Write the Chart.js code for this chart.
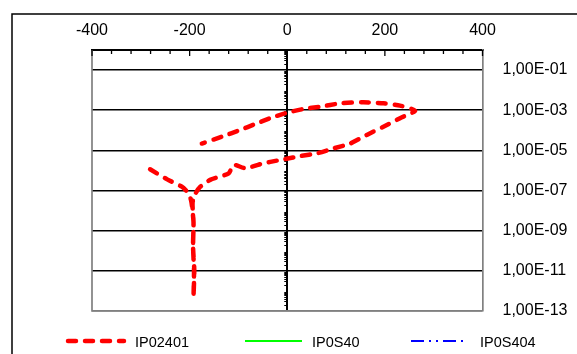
<!DOCTYPE html>
<html>
<head>
<meta charset="utf-8">
<script src="https://cdn.jsdelivr.net/npm/chart.js@4/dist/chart.umd.min.js"></script>
<style>
  html, body { margin: 0; padding: 0; background: #fff; }
  #wrap { width: 577px; height: 354px; position: relative; }
</style>
</head>
<body>
<div id="wrap"><canvas id="polChart"></canvas></div>
<script>
/* ---------- Data ---------- */
// potential (mV) and current, in scan order
const POTENTIAL = [-281, -246, -216, -202, -197, -195, -192, -193, -190.5, -192,
                   -191, -193, -192, -194, -188, -178, -158, -120, -110, -86,
                   -48, -21, -4, 27, 61, 95, 129, 163, 197, 231,
                   262, 231, 197, 156, 108, 68, 33, -4, -35, -69,
                   -96, -134, -175];
const CURRENT = [1.15e-6, 3.6e-7, 1.55e-7, 7.2e-8, 3.2e-8, 1.6e-8, 2.5e-9, 1.6e-10, 1.1e-11, 5.1e-13,
                 1.0e-11, 1.6e-10, 2.5e-9, 2.5e-8, 7.2e-8, 1.55e-7, 3.4e-7, 7.2e-7, 1.9e-6, 1.3e-6,
                 2.3e-6, 3.1e-6, 3.7e-6, 5.2e-6, 7.1e-6, 1.26e-5, 2.2e-5, 5.9e-5, 1.5e-4, 4.0e-4,
                 9.5e-4, 1.7e-3, 2.2e-3, 2.5e-3, 2.2e-3, 1.5e-3, 1.15e-3, 7.1e-4, 4.0e-4, 1.9e-4,
                 1.05e-4, 4.8e-5, 2.2e-5];
const SERIES_NAMES = ['IP02401', 'IP0S40', 'IP0S404'];
const X_TICKS = [-400, -200, 0, 200, 400];
const Y_TICKS = [1e-13, 1e-11, 1e-9, 1e-7, 1e-5, 1e-3, 1e-1];

const FONT = "'Liberation Sans', Arial, sans-serif";

function fmtExp(v) {
  const e = Math.round(Math.log10(v));
  const s = String(Math.abs(e)).padStart(2, '0');
  return '1,00E' + (e < 0 ? '-' : '+') + s;
}

/* ---------- Frame, inner ticks, legend ---------- */
const framePlugin = {
  id: 'frame',
  beforeDatasetsDraw(chart) {
    const c = chart.ctx, a = chart.chartArea;
    const x = chart.scales.x, y = chart.scales.y;
    c.save();
    // outer chart box (left + top visible)
    c.strokeStyle = '#000';
    c.lineWidth = 1.5;
    c.beginPath();
    c.moveTo(12, 360); c.lineTo(12, 14); c.lineTo(580, 14);
    c.stroke();

    // gray plot borders (left, bottom)
    c.strokeStyle = '#808080';
    c.lineWidth = 1.7;
    c.beginPath();
    c.moveTo(a.left, a.top); c.lineTo(a.left, a.bottom); c.lineTo(a.right, a.bottom);
    c.stroke();

    // inner ticks on top axis
    c.strokeStyle = '#000';
    c.lineWidth = 1.3;
    for (let v = -400; v <= 400; v += 40) {
      const px = x.getPixelForValue(v);
      const len = (v % 200 === 0) ? 6 : 4;
      c.beginPath(); c.moveTo(px, a.top); c.lineTo(px, a.top + len); c.stroke();
    }

    // minor log ticks on the zero line
    const zx = x.getPixelForValue(0);
    c.lineWidth = 1;
    for (let e = -13; e < 0; e++) {
      for (let k = 2; k <= 9; k++) {
        const py = Math.round(y.getPixelForValue(k * Math.pow(10, e))) + 0.5;
        c.beginPath(); c.moveTo(zx - 3, py); c.lineTo(zx, py); c.stroke();
      }
    }
    c.restore();
  },
  afterDraw(chart) {
    const c = chart.ctx;
    const starts = [68, 245, 411], ends = [124, 302, 465], texts = [135, 312, 480];
    const ly = 341;
    c.save();
    chart.data.datasets.forEach((ds, i) => {
      c.strokeStyle = ds.borderColor;
      c.lineWidth = ds.borderWidth;
      c.lineCap = ds.borderCapStyle || 'butt';
      c.setLineDash(ds.borderDash || []);
      c.beginPath(); c.moveTo(starts[i], ly); c.lineTo(ends[i], ly); c.stroke();
      c.setLineDash([]);
      c.fillStyle = '#000';
      c.font = '14.5px ' + FONT;
      c.textBaseline = 'middle';
      c.fillText(ds.label, texts[i], ly + 2);
    });
    c.restore();
  }
};

/* ---------- Chart ---------- */
function initChart() {
  const ctx = document.getElementById('polChart');
  const points = POTENTIAL.map((p, i) => ({ x: p, y: CURRENT[i] }));

  new Chart(ctx, {
    type: 'scatter',
    data: {
      datasets: [
        {
          label: SERIES_NAMES[0],
          data: points,
          showLine: true,
          borderColor: '#ff0000',
          borderWidth: 4.5,
          borderDash: [8, 9],
          borderCapStyle: 'round',
          borderJoinStyle: 'round',
          tension: 0.2,
          pointRadius: 0,
          fill: false
        },
        {
          label: SERIES_NAMES[1],
          data: [],
          showLine: true,
          borderColor: '#00ff00',
          borderWidth: 2,
          pointRadius: 0
        },
        {
          label: SERIES_NAMES[2],
          data: [],
          showLine: true,
          borderColor: '#0000ff',
          borderWidth: 2,
          borderDash: [13, 5, 2, 5, 2, 5],
          pointRadius: 0
        }
      ]
    },
    options: {
      responsive: true,
      maintainAspectRatio: false,
      animation: false,
      layout: { padding: { left: 92, bottom: 43, top: 0, right: 0 } },
      plugins: {
        legend: { display: false },
        tooltip: { enabled: false }
      },
      scales: {
        x: {
          type: 'linear',
          position: 'top',
          min: -400,
          max: 400,
          afterBuildTicks: s => { s.ticks = X_TICKS.map(v => ({ value: v })); },
          afterFit: s => { s.height = 50; },
          ticks: {
            font: { family: FONT, size: 16 },
            color: '#000',
            padding: 10,
            maxRotation: 0
          },
          grid: {
            drawTicks: false,
            color: c => (c.tick && c.tick.value === 0) ? '#000' : 'rgba(0,0,0,0)',
            lineWidth: 2
          },
          border: { display: true, color: '#000', width: 2 }
        },
        y: {
          type: 'logarithmic',
          position: 'right',
          min: 1e-13,
          max: 1,
          afterBuildTicks: s => { s.ticks = Y_TICKS.map(v => ({ value: v })); },
          afterFit: s => { s.width = 94.5; },
          ticks: {
            font: { family: FONT, size: 16 },
            color: '#000',
            padding: 20,
            callback: v => fmtExp(v)
          },
          grid: {
            drawTicks: false,
            color: c => (c.tick && c.tick.value === 1e-13) ? '#808080' : '#000',
            lineWidth: 1.6
          },
          border: { display: true, color: '#808080', width: 1.7 }
        }
      }
    },
    plugins: [framePlugin]
  });
}

document.addEventListener('DOMContentLoaded', initChart);
</script>
</body>
</html>
